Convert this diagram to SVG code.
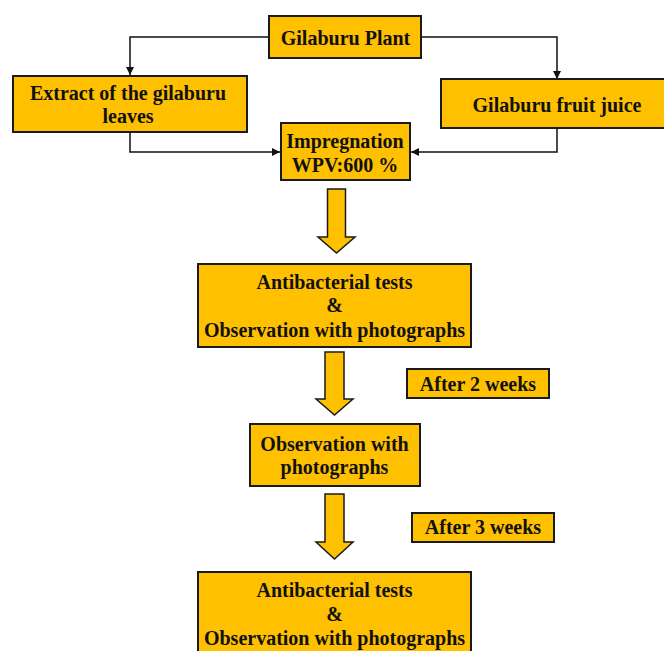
<svg xmlns="http://www.w3.org/2000/svg" width="664" height="651" viewBox="0 0 664 651">
<style>
.box{fill:#FFC000;stroke:#1a1a1a;stroke-width:2}
.barrow{fill:#FFC000;stroke:#1a1a1a;stroke-width:1.5;stroke-linejoin:miter}
.t{font-family:"Liberation Serif","Times New Roman",serif;font-weight:bold;font-size:20px;fill:#111;text-anchor:middle}
.c{fill:none;stroke:#111;stroke-width:1.5}
</style>
<defs>
<marker id="ah" viewBox="0 0 10 10" refX="10" refY="5" markerWidth="8" markerHeight="8" markerUnits="userSpaceOnUse" orient="auto">
<path d="M0,0 L10,5 L0,10 z" fill="#111"/>
</marker>
</defs>
<rect width="664" height="651" fill="#fff"/>
<g id="connectors">
<path class="c" d="M268,37 H130 V75" marker-end="url(#ah)"/>
<path class="c" d="M422,37 H557 V79" marker-end="url(#ah)"/>
<path class="c" d="M130,132 V152 H280" marker-end="url(#ah)"/>
<path class="c" d="M557,128 V152 H411" marker-end="url(#ah)"/>
<path class="barrow" d="M327.5,189 H345.5 V237 H355 L336.5,253 L318,237 H327.5 Z"/>
<path class="barrow" d="M325,352 H344 V399 H353 L334.5,415 L316,399 H325 Z"/>
<path class="barrow" d="M325,494 H344 V542 H353 L334.5,559 L316,542 H325 Z"/>
</g>
<g id="plant">
<rect class="box" x="269" y="16" width="152" height="42"/>
<text class="t" x="345.5" y="45">Gilaburu Plant</text>
</g>
<g id="extract">
<rect class="box" x="13" y="76" width="234" height="56"/>
<text class="t" x="128" y="100">Extract of the gilaburu</text>
<text class="t" x="128" y="123">leaves</text>
</g>
<g id="juice">
<rect class="box" x="441" y="79" width="230" height="49"/>
<text class="t" x="557" y="112">Gilaburu fruit juice</text>
</g>
<g id="impregnation">
<rect class="box" x="281" y="123" width="129" height="57"/>
<text class="t" x="345" y="148">Impregnation</text>
<text class="t" x="345" y="172">WPV:600 %</text>
</g>
<g id="antibacterial1">
<rect class="box" x="198" y="264" width="273" height="83"/>
<text class="t" x="334.5" y="289">Antibacterial tests</text>
<text class="t" x="334.5" y="312">&amp;</text>
<text class="t" x="334.5" y="337">Observation with photographs</text>
</g>
<g id="after2">
<rect class="box" x="407" y="369" width="142" height="29"/>
<text class="t" x="478" y="391">After 2 weeks</text>
</g>
<g id="observation">
<rect class="box" x="250" y="424" width="170" height="62"/>
<text class="t" x="334.5" y="451">Observation with</text>
<text class="t" x="334.5" y="474">photographs</text>
</g>
<g id="after3">
<rect class="box" x="412" y="513" width="142" height="29"/>
<text class="t" x="483" y="534">After 3 weeks</text>
</g>
<g id="antibacterial2">
<rect class="box" x="198" y="572" width="273" height="90"/>
<text class="t" x="334.5" y="597">Antibacterial tests</text>
<text class="t" x="334.5" y="621">&amp;</text>
<text class="t" x="334.5" y="645">Observation with photographs</text>
</g>
</svg>
